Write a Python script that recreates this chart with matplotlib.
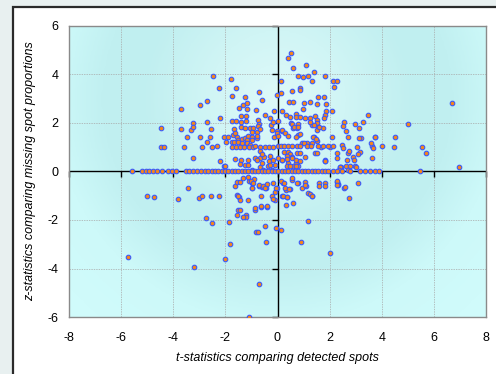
import numpy as np
import matplotlib
matplotlib.use("Agg")
import matplotlib.pyplot as plt
from matplotlib.colors import LinearSegmentedColormap
from matplotlib.patches import Rectangle

plt.rcParams['font.family'] = ['Liberation Sans', 'DejaVu Sans']
plt.rcParams['axes.unicode_minus'] = False

# points lying on the t axis (z = 0)
axis_x = [-5.60, -5.19, -5.06, -4.92, -4.77, -4.61, -4.44, -4.19, -4.06, -3.90,
          -3.51, -3.38, -3.23, -3.10, -2.95, -2.78, -2.65, -2.53, -2.40, -2.27,
          -2.14, -2.01, -1.89, -1.76, -1.63, -1.50, -1.37, -1.25, -1.12, -0.99,
          -0.86, -0.74, -0.61, -0.48, -0.35, -0.22, -0.10,
          0.03, 0.16, 0.29, 0.42, 0.54, 0.67, 0.80, 0.93, 1.06, 1.18, 1.31, 1.44,
          1.57, 1.70, 1.82, 1.95, 2.14, 2.27, 2.46, 2.78, 3.17, 3.36, 3.55, 3.74,
          3.90, 5.47]

# points with z > 0
upper = [
    (-4.46, 1.78), (-4.47, 1.02), (-4.34, 1.02),
    (-3.71, 2.58), (-3.69, 1.77), (-3.59, 1.00), (-3.46, 1.44), (-3.32, 1.71),
    (-3.25, 2.00), (-3.26, 1.85), (-3.25, 0.57),
    (-2.96, 2.76), (-2.96, 1.44), (-2.91, 1.00), (-2.72, 2.05), (-2.69, 2.92),
    (-2.72, 1.20), (-2.59, 1.44), (-2.54, 1.77), (-2.53, 1.00),
    (-2.46, 3.95), (-2.33, 1.05), (-2.26, 3.44), (-2.22, 2.22), (-2.21, 0.45),
    (-2.05, 0.23), (-2.01, 0.21), (-2.04, 1.44), (-1.99, 1.23), (-1.89, 1.44),
    (-1.78, 3.81), (-1.76, 3.13), (-1.60, 3.44), (-1.76, 2.07), (-1.58, 2.07),
    (-1.76, 1.23), (-1.67, 1.23), (-1.76, 1.01), (-1.59, 1.01), (-1.70, 1.51),
    (-1.57, 1.41), (-1.66, 1.74), (-1.63, 1.60), (-1.63, 0.50),
    (-1.24, 3.08), (-0.72, 3.28), (-1.34, 2.75), (-1.16, 2.84), (-1.47, 2.63),
    (-1.16, 2.58), (-0.61, 2.94), (-0.83, 2.52), (-1.39, 2.30), (-1.21, 2.29),
    (-1.40, 2.05), (-1.21, 2.08), (-0.75, 2.12), (-0.70, 1.96), (-0.48, 2.32),
    (-0.29, 2.22), (-0.12, 2.49), (-0.03, 3.14), (-1.39, 1.85), (-1.24, 1.81),
    (-1.06, 1.78), (-0.93, 1.78), (-0.78, 1.64), (-0.99, 1.64), (-0.26, 1.92),
    (-0.22, 1.71), (-0.03, 1.67), (-0.12, 1.44), (-1.50, 1.30), (-1.37, 1.33),
    (-1.25, 1.39), (-1.12, 1.46), (-1.18, 1.30), (-0.99, 1.44), (-0.97, 1.30),
    (-0.80, 1.37), (-1.50, 1.23), (-1.37, 1.16), (-1.18, 1.19), (-1.06, 1.09),
    (-1.44, 1.01), (-1.28, 1.01), (-1.10, 1.01), (-0.93, 1.01), (-0.67, 1.01),
    (-0.48, 1.01), (-0.33, 1.01), (-0.16, 1.01), (-0.86, 1.05), (-1.41, 0.47),
    (-1.12, 0.47), (-0.86, 0.57), (-0.67, 0.54), (-0.51, 0.61), (-0.31, 0.43),
    (-1.25, 0.27), (-0.67, 0.20), (-1.44, 0.31), (-1.12, 0.28), (-0.99, 0.07),
    (-0.80, 0.49), (-0.54, 0.07), (-0.35, 0.21), (-0.16, 0.49), (-0.10, 0.28),
    (-0.22, 0.07), (-0.76, 1.88), (-0.16, 2.05), (-0.80, 1.46), (-0.67, 1.74),
    (-0.67, 0.86), (-0.58, 0.72), (-0.29, 0.64), (-0.61, 0.34), (-0.29, 0.27),
    (0.51, 4.87), (0.41, 4.67), (0.61, 4.26), (1.08, 4.39), (1.40, 4.12),
    (0.77, 3.95), (0.98, 3.88), (1.18, 3.95), (1.31, 3.73), (1.83, 3.95),
    (2.12, 3.73), (2.28, 3.73), (2.16, 3.50), (0.12, 3.73), (0.13, 3.25),
    (0.57, 3.32), (0.87, 3.46), (0.87, 3.36), (1.57, 3.06), (1.78, 3.06),
    (0.45, 2.87), (0.58, 2.87), (1.03, 2.81), (1.26, 2.87), (1.50, 2.78),
    (1.85, 2.78), (0.16, 2.49), (0.70, 2.37), (0.98, 2.58), (1.86, 2.51),
    (2.10, 2.51), (1.82, 2.33), (1.80, 2.22), (0.31, 2.33), (0.48, 2.24),
    (0.70, 2.24), (0.87, 2.24), (1.06, 2.22), (1.26, 2.22), (1.43, 2.30),
    (1.50, 2.12), (0.01, 2.08), (0.16, 1.67), (0.52, 1.99), (0.61, 1.78),
    (0.74, 1.78), (0.77, 1.51), (1.31, 1.92), (1.50, 1.99), (1.57, 1.85),
    (1.76, 1.78), (1.50, 1.71), (2.56, 2.03), (2.53, 1.88), (2.62, 1.67),
    (2.69, 1.41), (2.97, 1.95), (3.13, 1.78), (3.27, 2.03), (3.46, 2.33),
    (3.20, 1.37), (3.14, 1.39), (3.75, 1.42), (3.61, 1.05), (3.68, 0.98),
    (4.00, 1.05), (0.93, 1.16), (1.12, 1.19), (1.31, 1.16), (1.41, 1.44),
    (1.50, 1.27), (1.67, 1.02), (2.01, 1.02), (2.46, 1.09), (2.52, 0.96),
    (2.69, 0.78), (3.04, 1.02), (3.17, 0.82), (2.27, 0.75), (2.29, 0.57),
    (2.66, 0.47), (2.91, 0.61), (2.95, 0.47), (3.64, 0.57), (1.44, 0.75),
    (1.82, 0.47), (2.40, 0.20), (2.97, 0.23), (6.68, 2.81), (5.00, 1.95),
    (4.52, 1.44), (4.47, 1.02), (5.56, 1.02), (5.71, 0.75), (6.97, 0.17),
    (3.74, 1.44), (3.59, 1.16), (3.08, 0.72), (3.02, 0.20), (2.74, 0.85),
    (2.45, 0.20), (0.54, 1.96), (0.77, 1.96), (0.64, 1.82), (0.80, 1.82),
    (1.25, 2.05), (1.41, 1.92), (1.59, 1.82), (-0.03, 1.58), (0.03, 1.46),
    (0.18, 1.71), (0.29, 1.60), (0.41, 1.46), (0.71, 1.44), (0.86, 1.55),
    (1.37, 1.44), (1.47, 1.33), (2.08, 1.44), (0.03, 1.05), (0.13, 1.05),
    (0.26, 1.05), (0.41, 1.05), (0.57, 1.05), (0.74, 1.05), (0.86, 1.05),
    (1.03, 1.17), (1.12, 1.05), (1.29, 1.05), (1.57, 1.05), (1.76, 1.05),
    (1.95, 1.05), (2.14, 1.05), (0.26, 0.82), (0.39, 0.82), (0.48, 0.72),
    (0.35, 0.64), (0.54, 0.61), (0.74, 0.78), (0.86, 0.78), (0.16, 0.47),
    (0.41, 0.36), (0.70, 0.36), (1.06, 0.61), (1.50, 0.75), (1.82, 0.45),
    (0.61, 0.23), (0.80, 0.23), (0.00, 0.56), (0.16, 0.49), (0.35, 0.53),
    (0.54, 0.56), (0.70, 0.49), (0.86, 0.45), (0.35, 0.21), (0.48, 0.21),
    (0.70, 0.21), (1.82, 0.42), (2.40, 0.17), (2.36, 0.07), (2.62, 0.21),
    (2.78, 0.21), (2.72, 0.07),
]

# points with z < 0
lower = [
    (-5.02, -1.00), (-4.73, -1.07), (-3.83, -1.12), (-3.45, -0.69),
    (-3.00, -1.08), (-2.91, -1.00), (-2.56, -1.00), (-2.23, -1.00),
    (-2.76, -1.90), (-2.51, -2.11), (-1.86, -2.07), (-1.83, -2.99),
    (-2.00, -3.62), (-5.72, -3.53), (-3.19, -3.95), (-1.11, -5.99),
    (-1.63, -0.60), (-1.54, -0.42), (-1.44, -0.42), (-1.54, -0.97),
    (-1.47, -1.04), (-1.12, -1.18), (-1.50, -1.59), (-1.57, -1.79),
    (-1.21, -1.79), (-1.21, -1.89), (-0.70, -4.65), (2.01, -3.37),
    (0.89, -2.91), (-0.44, -2.91), (1.16, -2.05), (-0.83, -2.48),
    (-0.74, -2.48), (-0.49, -2.26), (-0.07, -2.32), (0.15, -2.40),
    (-0.87, -1.59), (-0.64, -1.45), (-0.41, -1.45), (0.31, -1.38),
    (0.61, -1.29), (-0.10, -1.18), (-0.22, -1.00), (-0.10, -0.83),
    (-0.03, -0.69), (0.18, -1.00), (0.38, -1.04), (0.48, -0.72),
    (0.31, -0.76), (0.22, -0.49), (0.12, -0.38), (-0.64, -1.00),
    (-0.61, -0.63), (-0.71, -0.60), (-0.45, -0.69), (-0.98, -0.69),
    (-0.98, -0.46), (-1.08, -0.38), (0.80, -0.49), (0.93, -0.69),
    (1.08, -0.60), (1.18, -0.90), (1.31, -1.00), (1.59, -0.46),
    (1.59, -0.60), (1.82, -0.46), (1.82, -0.60), (2.31, -0.53),
    (2.56, -0.69), (2.74, -1.08), (3.08, -0.46), (-1.44, -1.18),
    (-1.44, -1.59), (-1.31, -1.89), (0.26, -0.49), (0.57, -0.35),
    (0.76, -0.49), (1.06, -0.42), (1.06, -0.56), (2.27, -0.42),
    (2.33, -0.56), (0.54, -0.27), (2.59, -0.65), (-1.31, -0.27),
    (-0.90, -0.30), (-0.70, -0.57), (-0.54, -0.61), (-0.41, -0.52),
    (-0.16, -0.47), (-1.12, -0.24), (-1.03, -0.38), (-0.93, -0.49),
    (-0.97, -0.69), (-0.48, -0.69), (-1.50, -1.01), (-0.16, -1.15),
    (-0.06, -0.69), (0.29, -0.69), (0.45, -0.73), (0.20, -1.01),
    (0.35, -1.06), (1.25, -0.93), (1.34, -1.01), (2.29, -0.38),
    (2.27, -0.56), (-0.86, -1.52), (-0.64, -1.42), (-0.41, -1.42),
]

ticks_x = [-8, -6, -4, -2, 0, 2, 4, 6, 8]
ticks_y = [-6, -4, -2, 0, 2, 4, 6]

fig = plt.figure(figsize=(4.96, 3.74), dpi=100, facecolor='#e8f0f0')
# outer white frame, drawn under the axes
fig.patches.append(Rectangle((13 / 496, -0.05), 1.1, 1.05 - 7 / 374,
                             transform=fig.transFigure, facecolor='white',
                             edgecolor='#2a2a2a', linewidth=1.6, zorder=-5))

ax = fig.add_axes([69 / 496, 1 - 317 / 374, 417 / 496, 291 / 374])
ax.set_zorder(2)

# radial gradient background
gx, gy = np.meshgrid(np.linspace(-8, 8, 300), np.linspace(-6, 6, 240))
r = np.sqrt((gx * 26.06) ** 2 + ((gy - 3.0) * 24.25) ** 2)
cmap = LinearSegmentedColormap.from_list(
    'bg', [(0.0, '#def9f9'), (0.2, '#d0f5f5'), (0.4, '#c0eff0'),
           (0.52, '#c1f0f1'), (0.66, '#cdf9f9'), (1.0, '#d3fdfd')])
ax.imshow(r, extent=[-8, 8, -6, 6], origin='lower', cmap=cmap,
          vmin=0, vmax=340, aspect='auto', zorder=0, interpolation='bilinear')

ax.set_xlim(-8, 8)
ax.set_ylim(-6, 6)
ax.set_xticks(ticks_x)
ax.set_yticks(ticks_y)
ax.grid(True, color='#a8a8a8', linestyle=(0, (2, 1.5)), linewidth=0.5, zorder=1)
ax.tick_params(axis='both', length=0, labelsize=9)
ax.tick_params(axis='x', pad=10.5)
ax.tick_params(axis='y', pad=7.5)
for sp in ax.spines.values():
    sp.set_color('#8a8a8a')
    sp.set_linewidth(1.0)

ax.axhline(0, color='black', lw=1.0, zorder=2)
ax.axvline(0, color='black', lw=1.0, zorder=2)
ax.plot(ticks_x, [0] * len(ticks_x), ls='none', marker=3, ms=4,
        mew=1.0, color='black', zorder=2, clip_on=False)
ax.plot([0] * len(ticks_y), ticks_y, ls='none', marker=0, ms=4,
        mew=1.0, color='black', zorder=2, clip_on=False)

pts_x = [p[0] for p in upper] + [p[0] for p in lower] + axis_x
pts_y = [p[1] for p in upper] + [p[1] for p in lower] + [0.0] * len(axis_x)
ax.scatter(pts_x, pts_y, s=11, facecolor='#f5861a', edgecolor='#3556ff',
           linewidth=0.75, zorder=3)

ax.set_xlabel('t-statistics comparing detected spots', fontsize=9,
              style='italic', labelpad=6)
ax.set_ylabel('z-statistics comparing missing spot proportions', fontsize=9,
              style='italic', labelpad=8)

fig.savefig('out.png', dpi=100, facecolor=fig.get_facecolor())
